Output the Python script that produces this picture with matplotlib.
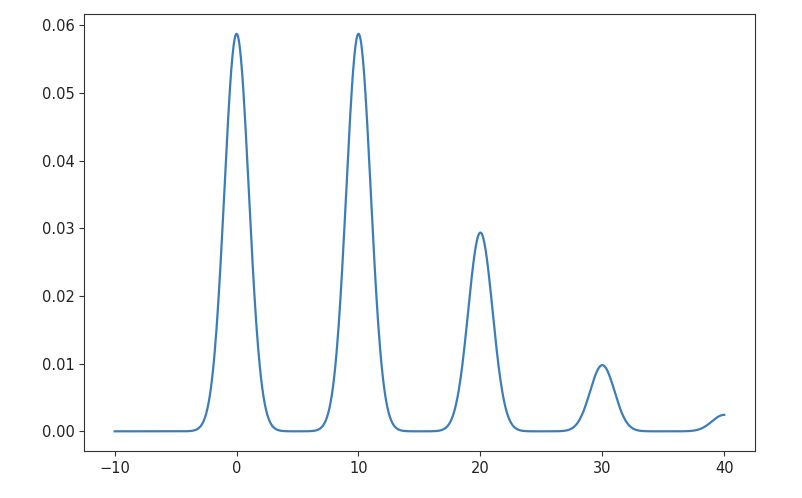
import numpy as np
import matplotlib
matplotlib.use("Agg")
import matplotlib.pyplot as plt

# Mixture components: peak centres, peak weights, common width
centers = [0, 10, 20, 30, 40]
weights = [0.1472, 0.1472, 0.0736, 0.0245, 0.0061]
sigma = 1.0
x_start, x_end = -10, 40

x = np.linspace(x_start, x_end, 1000)
y = np.zeros_like(x)
for c, w in zip(centers, weights):
    y += w * np.exp(-0.5 * ((x - c) / sigma) ** 2) / (sigma * np.sqrt(2 * np.pi))

fig = plt.figure(figsize=(8.02, 4.98), dpi=100)
ax = fig.add_axes([0.105, 0.094, 0.836, 0.878])
ax.plot(x, y, color="#3b7dbb", linewidth=1.6)
ax.set_xticks([-10, 0, 10, 20, 30, 40])
ax.set_yticks([0.00, 0.01, 0.02, 0.03, 0.04, 0.05, 0.06])
ax.tick_params(labelsize=10.5, colors="#333333", labelcolor="#222222")
for s in ax.spines.values():
    s.set_color("#333333")
fig.savefig("out.png", dpi=100)
